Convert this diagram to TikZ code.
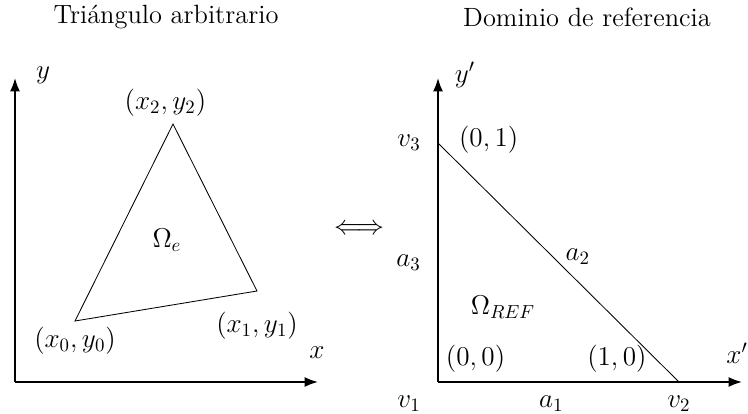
\documentclass[tikz,border=0pt]{standalone}
\usetikzlibrary{arrows.meta, positioning}
\begin{document}
\begin{tikzpicture}[
    x=0.53pt, y=-0.53pt,
    >=Latex,
    axis/.style={draw, ->, line width=0.9pt},
    side/.style={draw, line width=0.45pt},
    lbl/.style={font=\fontsize{14}{17}\selectfont, inner sep=1pt}
  ]
  \useasboundingbox (0,0) rectangle (748,414);

  % arbitrary triangle
  \node[lbl] (tleft) at (166,17) {Triángulo arbitrario};
  \coordinate (o) at (15,382);
  \coordinate (xend) at (318,382);
  \coordinate (yend) at (15,78);
  \coordinate (p0) at (75,321);
  \coordinate (p1) at (257,291);
  \coordinate (p2) at (173,124);

  \draw[axis] (o) -- (xend);
  \draw[axis] (o) -- (yend);
  \draw[side] (p0) -- (p1) -- (p2) -- cycle;

  \node[lbl] (xl) at (317,353) {$x$};
  \node[lbl] (yl) at (43,75) {$y$};
  \node[lbl, below=2pt of p0] (p0l) {$(x_0,y_0)$};
  \node[lbl, below=10pt of p1] (p1l) {$(x_1,y_1)$};
  \node[lbl, above=3pt of p2, xshift=-4pt] (p2l) {$(x_2,y_2)$};
  \node[lbl] (omega) at (167,240) {$\Omega_e$};

  \node[lbl] (equiv) at (359,230) {$\Longleftrightarrow$};

  % reference triangle
  \node[lbl] (tright) at (587,17) {Dominio de referencia};
  \coordinate (o2) at (438,382);
  \coordinate (xend2) at (742,382);
  \coordinate (yend2) at (438,78);
  \coordinate (v1) at (438,382);
  \coordinate (v2) at (679,382);
  \coordinate (v3) at (438,143);

  \draw[axis] (o2) -- (xend2);
  \draw[axis] (o2) -- (yend2);
  \draw[side] (v3) -- node[lbl, pos=0.52, above right] (a2) {$a_2$} (v2);
  \path (v1) -- node[lbl, pos=0.47, below=6pt] (a1) {$a_1$} (v2);
  \path (v1) -- node[lbl, midway, left=8pt] (a3) {$a_3$} (v3);

  \node[lbl] (xl2) at (737,353) {$x'$};
  \node[lbl] (yl2) at (465,75) {$y'$};
  \node[lbl, left=8pt of v3] (v3l) {$v_3$};
  \node[lbl, right=10pt of v3, yshift=2pt] (v3c) {$(0,1)$};
  \node[lbl, below left=6pt and 8pt of v1] (v1l) {$v_1$};
  \node[lbl, above right=4pt and 3pt of v1] (v1c) {$(0,0)$};
  \node[lbl, below=6pt of v2] (v2l) {$v_2$};
  \node[lbl, above left=4pt and 16pt of v2] (v2c) {$(1,0)$};
  \node[lbl] (omegaref) at (503,307) {$\Omega_{REF}$};
\end{tikzpicture}
\end{document}
